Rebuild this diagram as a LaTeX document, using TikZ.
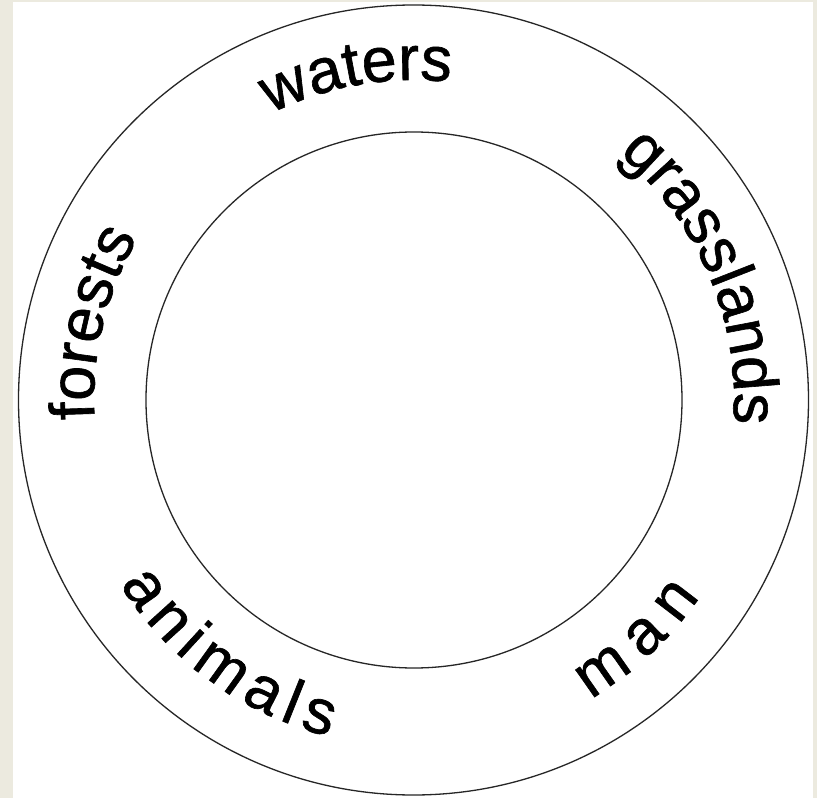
\documentclass[tikz,border=0pt]{standalone}
\usepackage{fontspec}
\setmainfont[FakeBold=1]{Liberation Sans}
\usetikzlibrary{decorations.text}
\definecolor{bgbeige}{RGB}{236,234,223}
\begin{document}
\begin{tikzpicture}[x=1pt,y=1pt,
  ring/.style={circle, draw=black!85, line width=1.3pt, inner sep=0pt},
  arctext/.style={decorate, decoration={text along path, text align=center, text={#1}}}]
\fill[bgbeige] (-414,-398) rectangle (403,400);
\fill[white] (-401,-398) rectangle (399,398);
\useasboundingbox (-414,-398) rectangle (403,400);
\node[ring, minimum size=790pt] (outer) at (-0.5,0) {};
\node[ring, minimum size=536pt] (inner) at (0,0) {};
% clockwise words (tops outward)
\path[arctext={|\fontsize{63}{70}\selectfont|waters}] (160:320) arc[start angle=160, end angle=40, radius=320];
\path[arctext={|\fontsize{63}{70}\selectfont|grasslands}] (78:320) arc[start angle=78, end angle=-32, radius=320];
\path[arctext={|\fontsize{63}{70}\selectfont|forests}] (226.5:320) arc[start angle=226.5, end angle=106.5, radius=320];
% counterclockwise words (tops inward)
\path[arctext={|\fontsize{63}{70}\selectfont|a{\kern8pt}n{\kern8pt}i{\kern8pt}m{\kern8pt}a{\kern8pt}l{\kern8pt}s}] (190:347) arc[start angle=190, end angle=278, radius=347];
\path[arctext={|\fontsize{63}{70}\selectfont|m{\kern14pt}a{\kern14pt}n}] (-89:347) arc[start angle=-89, end angle=-5, radius=347];
\end{tikzpicture}
\end{document}
